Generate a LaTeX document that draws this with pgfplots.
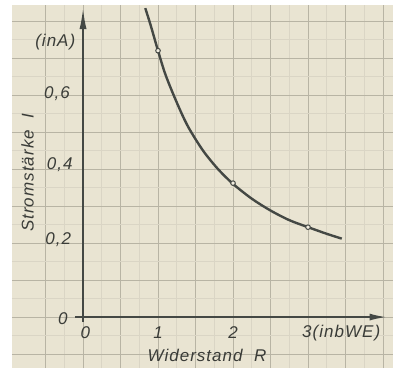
\documentclass[border=0pt]{standalone}
\usepackage{pgfplots}
\pgfplotsset{compat=1.18}
\usepackage{fontspec}
\setmainfont{Liberation Sans}
\usetikzlibrary{arrows.meta}
\definecolor{paper}{RGB}{233,228,210}
\definecolor{gmaj}{RGB}{184,180,164}
\definecolor{gmin}{RGB}{218,213,197}
\definecolor{ink}{RGB}{68,72,68}
\definecolor{txt}{RGB}{58,60,56}
\newcommand{\lbl}{\fontsize{17}{19}\selectfont\itshape\addfontfeatures{LetterSpace=6}}
\begin{document}
\begin{tikzpicture}
\begin{axis}[
  x=75pt, y=370pt,
  xmin=-0.947, xmax=4.133, ymin=-0.138, ymax=0.843,
  axis line style={draw=none},
  axis background/.style={fill=paper},
  xtick={-0.5,0,...,4}, ytick={-0.1,0,...,0.8},
  minor x tick num=1, minor y tick num=1,
  grid=both,
  major grid style={gmaj, line width=0.8pt},
  minor grid style={gmin, line width=0.6pt},
  xticklabels={}, yticklabels={},
  major tick style={draw=none}, minor tick style={draw=none},
  clip=false,
]
\coordinate (bl) at (axis cs:-1.107,-0.154);
\coordinate (tr) at (axis cs:4.16,0.857);
% axes
\draw[ink, line width=2.2pt, -{Latex[length=22pt,width=7pt]}] (axis cs:0,-0.014) -- (axis cs:0,0.838);
\draw[ink, line width=2.2pt, -{Latex[length=18pt,width=7pt]}] (axis cs:-0.107,0) -- (axis cs:4.06,0);
% curve
\addplot[ink, line width=2.4pt, smooth, no marks] coordinates {
 (0.83,0.835) (0.9,0.79) (1,0.72) (1.1,0.655) (1.25,0.58) (1.4,0.515)
 (1.6,0.45) (1.8,0.40) (2,0.36) (2.25,0.32) (2.5,0.288) (2.75,0.262)
 (3,0.243) (3.25,0.225) (3.45,0.212)
};
\addplot[only marks, mark=*, mark size=2.3pt, mark options={fill=paper!70!white, draw=ink, line width=1pt}] coordinates {
 (1,0.72) (2,0.362) (3,0.243)
};
% labels
\node[txt] at (axis cs:-0.37,0.743) {\lbl (inA)};
\node[txt] at (axis cs:-0.347,0.603) {\lbl 0,6};
\node[txt] at (axis cs:-0.31,0.411) {\lbl 0,4};
\node[txt] at (axis cs:-0.33,0.208) {\lbl 0,2};
\node[txt] at (axis cs:-0.27,-0.003) {\lbl 0};
\node[txt] at (axis cs:0.03,-0.042) {\lbl 0};
\node[txt] at (axis cs:1.0,-0.042) {\lbl 1};
\node[txt] at (axis cs:2.0,-0.042) {\lbl 2};
\node[txt, anchor=west, inner sep=0pt] at (axis cs:2.92,-0.042) {\lbl 3(inbWE)};
\node[txt] at (axis cs:1.653,-0.103) {\lbl Widerstand\ \ R};
\node[txt, rotate=90] at (axis cs:-0.74,0.39) {\lbl Stromstärke\ \ I};
\end{axis}
\pgfresetboundingbox
\useasboundingbox (bl) rectangle (tr);
\end{tikzpicture}
\end{document}
